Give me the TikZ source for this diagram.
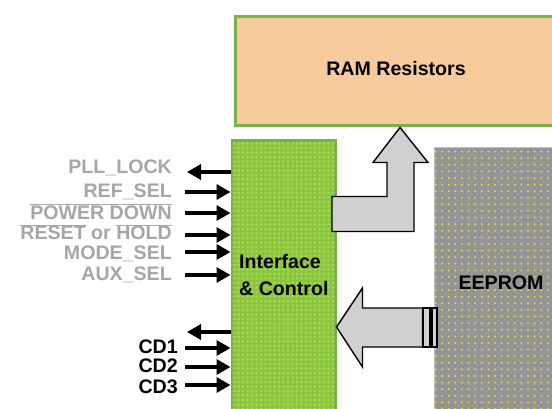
\documentclass[tikz,border=0pt]{standalone}
\usepackage{fontspec}
\setmainfont{Liberation Sans}
\usetikzlibrary{arrows.meta,patterns.meta}

\definecolor{ramfill}{HTML}{F7CB9B}
\definecolor{boxgreen}{HTML}{77B347}
\definecolor{ifgreen}{HTML}{8BC53D}
\definecolor{ifdots}{HTML}{A6DA58}
\definecolor{eegray}{HTML}{959595}
\definecolor{eedots}{HTML}{EAE43A}
\definecolor{siggray}{HTML}{A6A6A6}
\definecolor{busgray}{HTML}{D0D0D0}

\begin{document}
\begin{tikzpicture}[x=1pt,y=-1pt,
    font=\fontsize{19.6}{19.6}\selectfont\bfseries,
    sig/.style={line width=3.3pt,-{Triangle[length=14pt,width=15pt]}},
    siglabel/.style={anchor=base east,inner sep=0pt,text=siggray},
    cdlabel/.style={anchor=base east,inner sep=0pt},
    bus/.style={draw=black,line width=1.4pt,fill=busgray,line join=miter}]

  \useasboundingbox (0,0) rectangle (552,409);
  \clip (0,0) rectangle (552,409);

  % Blocks
  \node[draw=boxgreen,line width=3pt,fill=ramfill,anchor=north west,
        minimum width=330pt,minimum height=109pt] (ram) at (233.5,15.5) {};
  \node[draw=boxgreen,line width=3pt,fill=ifgreen,anchor=north west,
        minimum width=103pt,minimum height=290pt,
        postaction={pattern={Dots[distance=4.5pt,radius=1.3pt]},pattern color=ifdots}]
        (iface) at (230.5,139.5) {};
  \node[draw=black!25,line width=0.8pt,fill=eegray,anchor=north west,
        minimum width=130pt,minimum height=270pt,
        postaction={pattern={Dots[distance=6.6pt,radius=1pt]},pattern color=eedots}]
        (eeprom) at (434,147) {};

  % Block labels
  \node[anchor=base] (ramtext) at (396,76) {RAM Resistors};
  \node[anchor=base west,inner sep=0pt] (iftext) at (239,268) {Interface};
  \node[anchor=base west,inner sep=0pt] (iftextb) at (239,295) {\& Control};
  \node[anchor=base] (eetext) at (501,289) {EEPROM};

  % Bus arrows
  \draw[bus] (400,0 |- ram.south) -- ++(28,35) -- ++(-14,0) -- ++(0,69)
    -- ++(-82,0) -- ++(0,-35) -- ++(55,0) -- ++(0,-34) -- ++(-14,0) -- cycle;
  \draw[bus] (iface.east |- 0,327) -- ++(26,-39) -- ++(0,20) -- ++(60,0)
    -- ++(0,39) -- ++(-60,0) -- ++(0,20) -- cycle;
  \draw[bus,line width=1.2pt] (423,308) rectangle (430,347);
  \draw[bus,line width=1.2pt] (432,308) rectangle (437,347);

  % Signal labels
  \node[siglabel] (pll) at (172,174) {PLL\_LOCK};
  \node[siglabel] (refsel) at (172,197) {REF\_SEL};
  \node[siglabel] (pwrdn) at (172,219) {$\overline{\mbox{POWER DOWN}}$};
  \node[siglabel] (rsthold) at (172,240) {$\overline{\mbox{RESET}}$ or $\overline{\mbox{HOLD}}$};
  \node[siglabel] (modesel) at (172,259) {MODE\_SEL};
  \node[siglabel] (auxsel) at (172,280) {AUX\_SEL};
  \node[cdlabel] (cda) at (178,353) {CD1};
  \node[cdlabel] (cdb) at (178,372) {CD2};
  \node[cdlabel] (cdc) at (178,393) {CD3};

  % Signal arrows
  \coordinate (pll-out) at (187,172);
  \coordinate (cd-out) at (187,332);
  \draw[sig] (pll-out -| iface.west) -- (pll-out);
  \draw[sig] (cd-out -| iface.west) -- (cd-out);
  \foreach \name/\y in {refsel/192,pwrdn/213,rsthold/235,modesel/252,
                        auxsel/275,cda/348,cdb/367,cdc/385}
  {
    \coordinate (\name-in) at (185,\y);
    \draw[sig] (\name-in) -- (\name-in -| iface.west);
  }

\end{tikzpicture}
\end{document}
